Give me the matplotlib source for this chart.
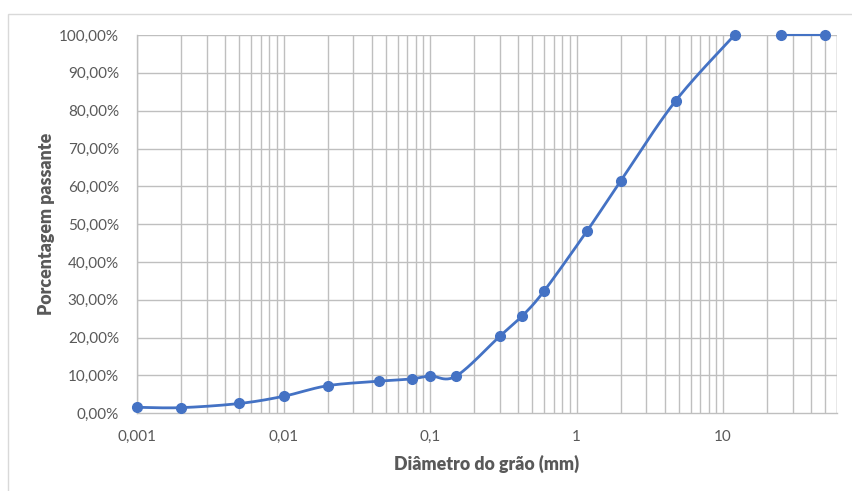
import numpy as np
import matplotlib
matplotlib.use("Agg")
import matplotlib.pyplot as plt
from matplotlib.ticker import FuncFormatter, FixedLocator
from matplotlib.patches import Rectangle

# granulometric curve data
diam = [0.001, 0.002, 0.005, 0.01, 0.02, 0.045, 0.075, 0.1, 0.15,
        0.3, 0.425, 0.6, 1.18, 2.0, 4.75, 12.0]
passing = [1.6, 1.5, 2.6, 4.5, 7.3, 8.5, 9.1, 9.9, 9.8,
           20.4, 25.7, 32.3, 48.2, 61.4, 82.6, 100.0]
diam_tail = [25.0, 50.0]
passing_tail = [100.0, 100.0]

xlabels = ['0,001', '0,01', '0,1', '1', '10']

BLUE = '#4472C4'
GRID = '#BFBFBF'
TXT = '#595959'

plt.rcParams['font.family'] = ['Lato', 'DejaVu Sans']

fig = plt.figure(figsize=(8.52, 4.91), dpi=100)
ax = fig.add_axes([0.1608, 0.1582, 0.8216, 0.7705])

xmin, xmax = 0.001, 60.0
ax.set_xscale('log')
ax.set_xlim(xmin, xmax)
ax.set_ylim(0, 100)


def smooth(xs, ys, sx, sy, n=40):
    # Excel-like smoothed line: cubic bezier with catmull-rom control points (screen space)
    p = np.column_stack([np.log10(xs) * sx, np.array(ys) * sy])
    out = [p[0]]
    m = len(p)
    for i in range(m - 1):
        p0 = p[i - 1] if i > 0 else p[i]
        p1 = p[i]
        p2 = p[i + 1]
        p3 = p[i + 2] if i + 2 < m else p[i + 1]
        c1 = p1 + (p2 - p0) / 6.0
        c2 = p2 - (p3 - p1) / 6.0
        t = np.linspace(0, 1, n)[1:, None]
        seg = ((1 - t) ** 3) * p1 + 3 * ((1 - t) ** 2) * t * c1 + 3 * (1 - t) * t ** 2 * c2 + t ** 3 * p2
        out.extend(seg)
    out = np.array(out)
    return 10 ** (out[:, 0] / sx), out[:, 1] / sy


# pixel scales: one decade and one percent
sx = 147.3
sy = 3.783
cx, cy = smooth(diam, passing, sx, sy)
ax.plot(cx, cy, color=BLUE, lw=2.0, zorder=3, solid_capstyle='round', clip_on=False)
ax.plot(diam, passing, 'o', color=BLUE, ms=7, zorder=4, clip_on=False)
ax.plot(diam_tail, passing_tail, '-o', color=BLUE, lw=1.5, ms=7, zorder=4, clip_on=False)

# grid
vlines = []
for d in range(-3, 2):
    for k in range(1, 10):
        v = k * 10.0 ** d
        if xmin <= v <= xmax:
            vlines.append(v)
vlines.append(60.0)
for v in vlines:
    ax.axvline(v, color=GRID, lw=1.0, zorder=1)
for h in range(10, 101, 10):
    ax.axhline(h, color=GRID, lw=1.0, zorder=1)

ax.xaxis.set_major_locator(FixedLocator([0.001, 0.01, 0.1, 1, 10]))
ax.xaxis.set_minor_locator(FixedLocator([]))
ax.set_xticklabels(xlabels)
ax.set_yticks(range(0, 101, 10))
ax.yaxis.set_major_formatter(FuncFormatter(lambda v, p: ('%.2f%%' % v).replace('.', ',')))
ax.tick_params(length=0, labelsize=11, colors=TXT)
ax.tick_params(axis='y', pad=13)
ax.tick_params(axis='x', pad=12)

for s in ['top', 'right']:
    ax.spines[s].set_visible(False)
ax.spines['left'].set_color(GRID)
ax.spines['bottom'].set_color(GRID)
ax.spines['left'].set_linewidth(1.0)
ax.spines['bottom'].set_linewidth(1.0)

ax.set_xlabel('Diâmetro do grão (mm)', fontsize=12.8, fontweight='heavy', color=TXT, labelpad=8)
ax.set_ylabel('Porcentagem passante', fontsize=12.8, fontweight='heavy', color=TXT, labelpad=3)

# outer chart frame
fig.patches.append(Rectangle((8 / 852, -0.01), 1.0, 1 - 14 / 491 + 0.01, transform=fig.transFigure,
                             fill=False, edgecolor='#D9D9D9', lw=1.0))

fig.savefig('out.png', dpi=100)
